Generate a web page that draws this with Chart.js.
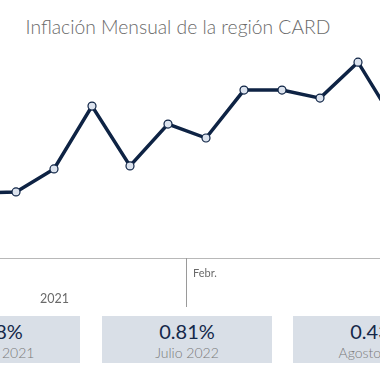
<!DOCTYPE html>
<html>
<head>
<meta charset="utf-8">
<script src="https://cdn.jsdelivr.net/npm/chart.js@4"></script>
<style>
  html, body { margin: 0; padding: 0; }
  body { width: 380px; height: 380px; overflow: hidden; position: relative; background: #fff; font-family: 'Lato', sans-serif; }
  .title { position: absolute; left: 0; width: 356px; top: 15px; text-align: center; font-size: 19.3px; font-weight: 300; color: #6a6a6a; white-space: nowrap; }
  .wrap { position: absolute; left: -60px; top: 36px; width: 494px; height: 228px; }
  .axis { position: absolute; left: 0; top: 258px; width: 380px; height: 1px; background: #b8b8b8; }
  .divider { position: absolute; left: 186px; top: 258px; width: 1px; height: 49px; background: #9a9a9a; }
  .lbl { position: absolute; color: #6a6a6a; white-space: nowrap; }
  .card { position: absolute; top: 316px; width: 170px; height: 47px; background: #d9dfe7; text-align: center; }
  .card .v { margin-top: 3px; font-size: 20px; color: #14284a; font-weight: 400; }
  .card .m { margin-top: 1px; font-size: 14px; color: #7a7a7a; font-weight: 300; }
</style>
</head>
<body>
<div class="title">Inflación Mensual de la región CARD</div>
<div class="wrap"><canvas id="chart"></canvas></div>
<div class="axis"></div>
<div class="divider"></div>
<div class="lbl" style="left:193px; top:266px; font-size:11px;">Febr.</div>
<div class="lbl" style="left:40px; top:291px; font-size:12.5px;">2021</div>
<div id="cards"></div>
<script>
const months = ['Jul', 'Ago', 'Sep', 'Oct', 'Nov', 'Dic', 'Ene', 'Feb', 'Mar', 'Abr', 'May', 'Jun']
const inflation = [0.33, 0.335, 0.45, 0.765, 0.465, 0.675, 0.605, 0.845, 0.845, 0.805, 0.985, 0.675]

const cardValues = ['0.48%', '0.81%', '0.43%']
const cardLabels = ['Agosto 2021', 'Julio 2022', 'Agosto 2022']
const cardLefts = [-90, 102, 293]

const cardsElement = document.querySelector('#cards')

for (let i = 0; i < cardValues.length; i++) {
    const div = document.createElement('div')
    div.className = 'card'
    div.style.left = cardLefts[i] + 'px'
    div.innerHTML = `<div class="v">${cardValues[i]}</div><div class="m">${cardLabels[i]}</div>`
    cardsElement.appendChild(div)
}

const ctx = document.querySelector('#chart').getContext('2d')

new Chart(ctx, {
    type: 'line',
    data: {
        labels: months,
        datasets: [{
            data: inflation,
            borderColor: '#0e2344',
            borderWidth: 3.5,
            pointRadius: 4,
            pointBackgroundColor: '#dce3ee',
            pointBorderColor: '#0e2344',
            pointBorderWidth: 1.2,
            tension: 0
        }]
    },
    options: {
        responsive: true,
        maintainAspectRatio: false,
        animation: false,
        layout: { padding: { left: 38, right: 38, top: 0, bottom: 0 } },
        plugins: { legend: { display: false }, tooltip: { enabled: false } },
        scales: {
            x: { display: false, offset: false },
            y: { display: false, min: 0, max: 1.09 }
        }
    }
})
</script>
</body>
</html>
